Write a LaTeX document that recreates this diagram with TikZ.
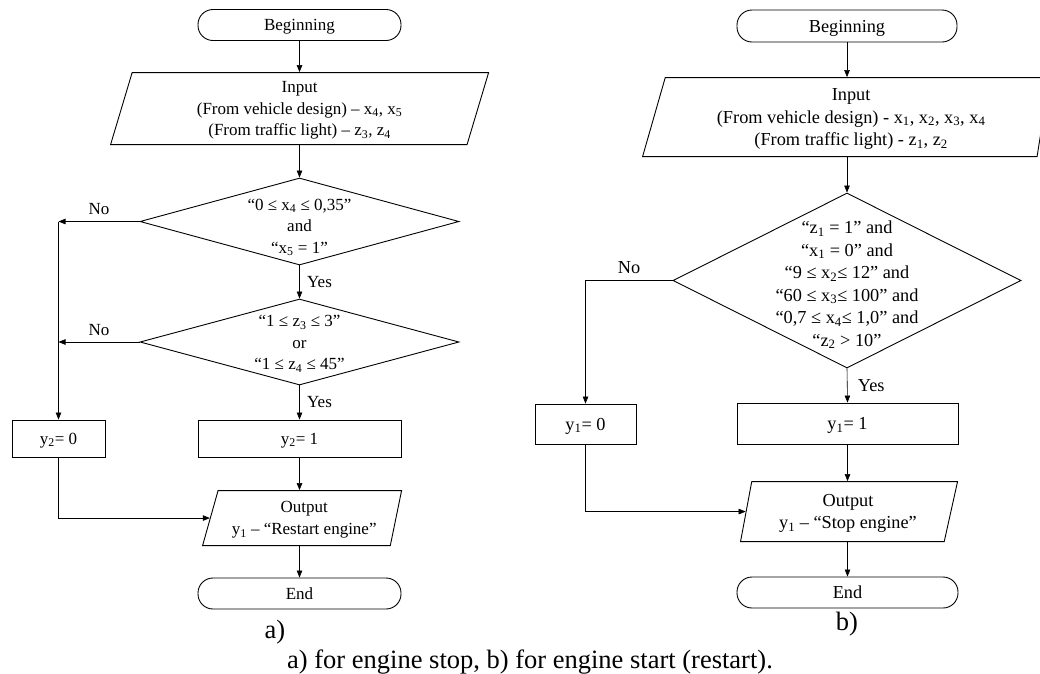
\documentclass[tikz,border=0pt]{standalone}
\usepackage{fontspec}
\setmainfont{Liberation Serif}
\usetikzlibrary{shapes.geometric,arrows.meta}

\begin{document}
\begin{tikzpicture}[x=1pt,y=-1pt,
  every node/.style={font=\fontsize{17}{21.5}\selectfont,align=center},
  rfont/.style={font=\fontsize{18.3}{22.5}\selectfont},
  term/.style={draw,line width=0.9pt,rounded corners=15pt,minimum height=31pt,inner sep=0pt,text depth=-2pt},
  proc/.style={draw,line width=0.9pt,rectangle,inner sep=0pt,text depth=-2pt},
  io/.style={draw,line width=0.9pt,trapezium,trapezium stretches body=true,inner sep=1pt,text depth=-2pt,anchor=bottom left corner},
  decision/.style={draw,line width=0.9pt,diamond,inner sep=0pt},
  arr/.style={line width=0.6pt,-{Triangle[length=7pt,width=5.5pt]}},
  bigtext/.style={font=\fontsize{26.5}{30}\selectfont}]
  \useasboundingbox (0,0) rectangle (1040,673);

  \node[term,minimum width=203pt] (beg1) at (299.5,25) {Beginning};
  \node[io,minimum width=378pt,minimum height=72pt,trapezium left angle=69,trapezium right angle=111] (in1) at (110,145)
    {Input\\(From vehicle design) -- x\textsubscript{4}, x\textsubscript{5}\\(From traffic light) -- z\textsubscript{3}, z\textsubscript{4}};
  \node[decision,minimum width=319pt,minimum height=87pt] (d1) at (299.5,221.5) {};
  \node (d1t) at (299.5,227.5) {“0 ≤ x\textsubscript{4} ≤ 0,35”\\and\\“x\textsubscript{5} = 1”};
  \node[decision,minimum width=319pt,minimum height=86pt] (d2) at (299.5,342) {};
  \node (d2t) at (299.5,344) {“1 ≤ z\textsubscript{3} ≤ 3”\\or\\“1 ≤ z\textsubscript{4} ≤ 45”};
  \node[proc,minimum width=93pt,minimum height=37pt] (y20) at (58.5,438.5) {y\textsubscript{2}= 0};
  \node[proc,minimum width=203pt,minimum height=37pt] (y21) at (299.5,438.5) {y\textsubscript{2}= 1};
  \node[io,minimum width=199pt,minimum height=55pt,trapezium left angle=66,trapezium right angle=108] (out1) at (202,546)
    {Output\\y\textsubscript{1} -- “Restart engine”};
  \node[term,minimum width=203pt] (end1) at (299.5,593.5) {End};
  \node[bigtext] (la) at (275,632) {a)};

  \draw[arr] (beg1.south) -- (beg1.south |- in1.north);
  \draw[arr] (d1.north |- in1.south) -- (d1.north);
  \draw[arr] (d1.south) -- node[right=4pt]{Yes} (d2.north);
  \draw[arr] (d2.south) -- node[right=4pt]{Yes} (y21.north);
  \draw[arr] (d1.west) -- node[above=3pt]{No} (d1.west -| y20.north);
  \draw[arr] (d2.west) -- node[above=3pt]{No} (d2.west -| y20.north);
  \draw[arr] (d1.west -| y20.north) -- (y20.north);
  \draw[arr] (y20.south) |- (out1.west);
  \draw[arr] (y21.south) -- (y21.south |- out1.north);
  \draw[arr] (end1.north |- out1.south) -- (end1.north);

  \node[term,rfont,minimum width=220pt,minimum height=32pt] (beg2) at (847,26) {Beginning};
  \node[io,rfont,minimum width=407pt,minimum height=79pt,trapezium left angle=69,trapezium right angle=102] (in2) at (642,157)
    {Input\\(From vehicle design) - x\textsubscript{1}, x\textsubscript{2}, x\textsubscript{3}, x\textsubscript{4}\\(From traffic light) - z\textsubscript{1}, z\textsubscript{2}};
  \node[decision,minimum width=348pt,minimum height=175pt] (dec) at (847,280.5) {};
  \node[rfont] (dect) at (847,285)
    {“z\textsubscript{1} = 1” and\\“x\textsubscript{1} = 0” and\\“9 ≤ x\textsubscript{2}≤ 12” and\\“60 ≤ x\textsubscript{3}≤ 100” and\\“0,7 ≤ x\textsubscript{4}≤ 1,0” and\\“z\textsubscript{2} > 10”};
  \node[proc,rfont,minimum width=101pt,minimum height=40pt] (y10) at (585.5,424) {y\textsubscript{1}= 0};
  \node[proc,rfont,minimum width=221pt,minimum height=41pt] (y11) at (847.5,423.5) {y\textsubscript{1}= 1};
  \node[io,rfont,minimum width=217pt,minimum height=60pt,trapezium left angle=73,trapezium right angle=110] (out2) at (740,542)
    {Output\\y\textsubscript{1} -- “Stop engine”};
  \node[term,rfont,minimum width=221pt] (end2) at (847.5,592.5) {End};
  \node[bigtext] (lb) at (847,624) {b)};
  \node[bigtext] (cap) at (530,662) {a) for engine stop, b) for engine start (restart).};

  \draw[arr] (beg2.south) -- (beg2.south |- in2.north);
  \draw[arr] (dec.north |- in2.south) -- (dec.north);
  \draw[arr] (dec.west) -| node[pos=0.25,above=3pt,rfont]{No} (y10.north);
  \draw[arr] (dec.south) -- node[right=7pt,rfont]{Yes} (y11.north);
  \draw[arr] (y10.south) |- (out2.west);
  \draw[arr] (y11.south) -- (y11.south |- out2.north);
  \draw[arr] (end2.north |- out2.south) -- (end2.north);
\end{tikzpicture}
\end{document}
